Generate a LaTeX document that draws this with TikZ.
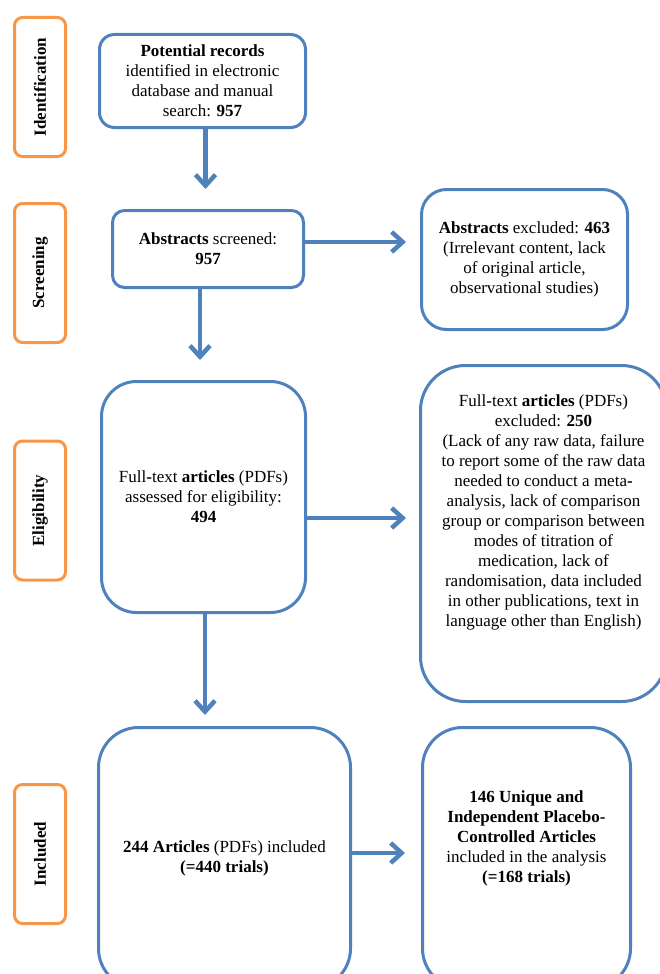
\documentclass[tikz,border=0pt]{standalone}
\usepackage{fontspec}
\setmainfont{Liberation Serif}
\usetikzlibrary{arrows.meta}
\definecolor{boxblue}{RGB}{79,129,189}
\definecolor{stageorange}{RGB}{247,150,70}

\begin{document}
\begin{tikzpicture}[x=1pt,y=-1pt,
    stage/.style={draw=stageorange,line width=3pt,rounded corners=8pt,rotate=90,minimum width=139pt,minimum height=51pt,font=\fontsize{17}{20}\selectfont\bfseries},
    box/.style={draw=boxblue,line width=3pt,align=center,font=\fontsize{17}{20}\selectfont},
    flow/.style={draw=boxblue,line width=4.5pt,-{Straight Barb[length=11pt,width=20pt]}}]
    \useasboundingbox (0,0) rectangle (660,974);
    \clip (0,0) rectangle (660,974);

    \node[stage] (idlabel) at (40,87) {Identification};
    \node[stage] (screenlabel) at (40,273) {Screening};
    \node[stage] (eliglabel) at (40,510.5) {Eligibility};
    \node[stage] (incllabel) at (40,854) {Included};

    \node[box,rounded corners=15pt,minimum width=206pt,minimum height=93pt] (records) at (202.5,81) {\textbf{Potential records}\\identified in electronic\\database and manual\\search: \textbf{957}};
    \node[box,rounded corners=12pt,minimum width=191pt,minimum height=77pt] (screened) at (208,249) {\textbf{Abstracts} screened:\\\textbf{957}};
    \node[box,rounded corners=25pt,minimum width=206pt,minimum height=140pt] (absexcl) at (524.5,259.5) {\textbf{Abstracts} excluded: \textbf{463}\\(Irrelevant content, lack\\of original article,\\observational studies)};
    \node[box,rounded corners=35pt,minimum width=204pt,minimum height=231pt] (fulltext) at (203.5,497) {Full\textbf{-}text \textbf{articles} (PDFs)\\assessed for eligibility:\\\textbf{494}};
    \node[box,rounded corners=45pt,minimum width=246pt,minimum height=336pt] (fullexcl) at (543.5,533.5) {Full\textbf{-}text \textbf{articles} (PDFs)\\excluded: \textbf{250}\\(Lack of any raw data, failure\\to report some of the raw data\\needed to conduct a meta\textbf{-}\\analysis, lack of comparison\\group or comparison between\\modes of titration of\\medication, lack of\\randomisation, data included\\in other publications, text in\\language other than English)\\[26pt]};
    \node[box,rounded corners=40pt,minimum width=252pt,minimum height=261pt] (included) at (224.5,858) {\textbf{244 Articles} (PDFs) included\\\textbf{(=440 trials)}};
    \node[box,rounded corners=40pt,minimum width=208pt,minimum height=261pt] (analysed) at (526.5,858) {\textbf{146 Unique and}\\\textbf{Independent Placebo-}\\\textbf{Controlled Articles}\\included in the analysis\\\textbf{(=168 trials)}\\[22pt]};

    \draw[flow,shorten >=20pt] ([xshift=3pt]records.south) -- ([xshift=3pt]records.south |- screened.north);
    \draw[flow,shorten >=14pt] ([yshift=7pt]screened.east) -- ([yshift=7pt]screened.east -| absexcl.west);
    \draw[flow,shorten >=20pt] ([xshift=-8pt]screened.south) -- ([xshift=-8pt]screened.south |- fulltext.north);
    \draw[flow,shorten >=13pt] ([yshift=-21pt]fulltext.east) -- ([yshift=-21pt]fulltext.east -| fullexcl.west);
    \draw[flow,shorten >=11pt] ([xshift=1.5pt]fulltext.south) -- ([xshift=1.5pt]fulltext.south |- included.north);
    \draw[flow,shorten >=16pt] ([yshift=5pt]included.east) -- ([yshift=5pt]included.east -| analysed.west);
\end{tikzpicture}
\end{document}
